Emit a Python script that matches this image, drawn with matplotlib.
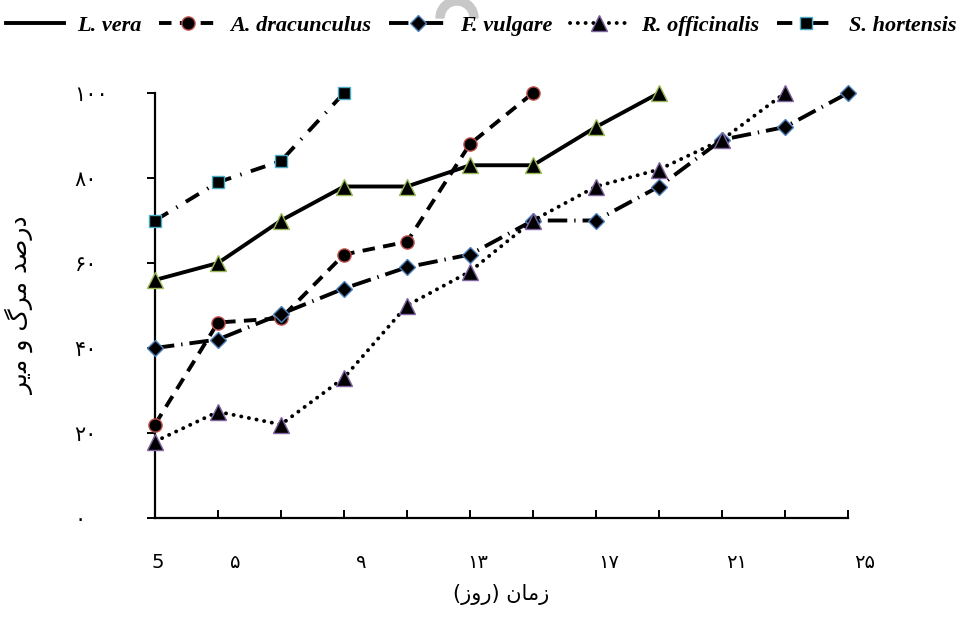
import matplotlib
matplotlib.use("Agg")
import matplotlib.pyplot as plt
from matplotlib.lines import Line2D
from matplotlib.patches import Wedge

plt.rcParams['lines.scale_dashes'] = False

# داده ها (روی محور افقی با شماره نقطه)
l_vera = [56, 60, 70, 78, 78, 83, 83, 92, 100]
a_dracunculus = [22, 46, 47, 62, 65, 88, 100]
f_vulgare = [40, 42, 48, 54, 59, 62, 70, 70, 78, 89, 92, 100]
r_officinalis = [18, 25, 22, 33, 50, 58, 70, 78, 82, 89, 100]
s_hortensis = [70, 79, 84, 100]

names = ['L. vera', 'A. dracunculus', 'F. vulgare', 'R. officinalis', 'S. hortensis']
series = [l_vera, a_dracunculus, f_vulgare, r_officinalis, s_hortensis]

n_points = 12
x_labels = ['5', '\u06f5', '\u06f9', '\u06f1\u06f3', '\u06f1\u06f7', '\u06f2\u06f1', '\u06f2\u06f5']
x_label_pos = [0.04, 1.28, 3.28, 5.13, 7.2, 9.24, 11.27]
y_ticks = [0, 20, 40, 60, 80, 100]
y_labels = ['\u06f0', '\u06f2\u06f0', '\u06f4\u06f0', '\u06f6\u06f0', '\u06f8\u06f0', '\u06f1\u06f0\u06f0']

# متن فارسی به شکل نمایشی (چپ به راست)
ylabel_text = '\ufeae\ufbfe\ufee3 \ufeed \ufb92\ufeae\ufee3 \ufeaa\ufebb\ufead\ufea9'
xlabel_text = '(\ufeaf\ufeed\ufead) \ufee5\ufe8e\ufee3\ufeaf'

# سبک خطوط
styles = [
    dict(ls='-', marker='^', ms=12, mec='#9BBB59'),
    dict(ls=(0, (9, 6)), marker='o', ms=9.5, mec='#C0504D'),
    dict(ls=(0, (14, 5, 1, 5)), marker='D', ms=8.5, mec='#4F81BD'),
    dict(ls=(0, (0.1, 5.5)), marker='^', ms=12, mec='#8064A2', dash_capstyle='round'),
    dict(ls=(0, (11, 7, 1, 7)), marker='s', ms=9, mec='#4BACC6'),
]

fig = plt.figure(figsize=(9.62, 6.18), dpi=100)
ax = fig.add_axes([155 / 962, 100 / 618, 693 / 962, 425 / 618])

for vals, st, nm in zip(series, styles, names):
    ax.plot(range(len(vals)), vals, color='black', lw=2.8, mfc='black', mew=1.0,
            label=nm, clip_on=False, zorder=3, **st)

ax.set_xlim(0, n_points - 1)
ax.set_ylim(0, 100)
ax.spines['top'].set_visible(False)
ax.spines['right'].set_visible(False)
ax.spines['left'].set_linewidth(1.6)
ax.spines['bottom'].set_linewidth(1.6)

ax.set_xticks(range(n_points))
ax.set_xticklabels([])
ax.tick_params(axis='x', direction='in', length=6, width=1.4)

ax.set_yticks(y_ticks)
ax.set_yticklabels(y_labels, fontsize=15, family=['DejaVu Sans'])
ax.tick_params(axis='y', direction='out', length=6, width=1.4, pad=52)
for t in ax.get_yticklabels():
    t.set_horizontalalignment('left')

for pos, lab in zip(x_label_pos, x_labels):
    ax.text(pos, -0.105, lab, transform=ax.get_xaxis_transform(), ha='center', va='center',
            fontsize=14, family=['DejaVu Sans'], clip_on=False)

ax.set_ylabel(ylabel_text, fontsize=18, family=['DejaVu Sans'])
ax.yaxis.set_label_coords(-0.175, 0.5)
ax.set_xlabel(xlabel_text, fontsize=15, family=['DejaVu Sans'])
ax.xaxis.set_label_coords(0.5, -0.155)

# راهنما
handles = []
for i, (st, nm) in enumerate(zip(styles, names)):
    kw = dict(st)
    if i == 0:
        kw['marker'] = None
    handles.append(Line2D([], [], color='black', lw=2.8, mfc='black', mew=1.0, **kw))
fig.legend(handles, names, loc='upper center', bbox_to_anchor=(0.5, 1.008), ncol=5,
           frameon=False, handlelength=2.6, handletextpad=0.6, columnspacing=0.8,
           prop=dict(family='Liberation Serif', weight='bold', style='italic', size=16))

# نشانه خاکستری بالای تصویر
fig.add_artist(Wedge((4.57, 6.0), 0.21, 0, 180, width=0.08, color='#C8C8C8',
                     transform=fig.dpi_scale_trans, zorder=0))

fig.savefig('out.png', dpi=100)
